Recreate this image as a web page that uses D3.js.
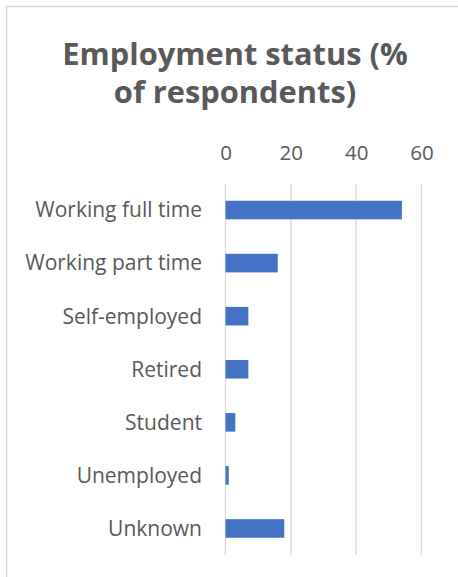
<!DOCTYPE html>
<html>
<head>
<meta charset="utf-8">
<script src="https://cdn.jsdelivr.net/npm/d3@7"></script>
<style>
  html, body { margin: 0; padding: 0; background: #ffffff; }
  svg { display: block; }
</style>
</head>
<body>
<svg id="chart" width="458" height="577"></svg>
<script>
// Employment status, share of respondents (%)
const categories = [
  "Working full time",
  "Working part time",
  "Self-employed",
  "Retired",
  "Student",
  "Unemployed",
  "Unknown"
];
const values = [54, 16, 7, 7, 3, 1, 18];
const tickValues = [0, 20, 40, 60];
const titleLines = ["Employment status (%", "of respondents)"];

const W = 458, H = 577;
const textColor = "#595959";
const gridColor = "#d9d9d9";
const barColor = "#4472c4";
const font = "'Open Sans', 'Noto Sans', sans-serif";

const svg = d3.select("#chart");

// chart area frame (only the top and left edges fall inside the window)
svg.append("rect")
  .attr("x", 6.5).attr("y", 6.5)
  .attr("width", W + 20).attr("height", H + 20)
  .attr("fill", "#ffffff")
  .attr("stroke", gridColor)
  .attr("stroke-width", 1.5);

// title
svg.append("g")
  .selectAll("text")
  .data(titleLines)
  .join("text")
  .attr("x", 235)
  .attr("y", (d, i) => 64.5 + i * 38.5)
  .attr("text-anchor", "middle")
  .attr("font-family", font)
  .attr("font-weight", "bold")
  .attr("font-size", 30.8)
  .attr("fill", textColor)
  .text(d => d);

const x = d3.scaleLinear().domain([0, 60]).range([225.5, 421.5]);
const y = d3.scaleBand()
  .domain(categories)
  .range([183.5, 555])
  .paddingInner(0.65)
  .paddingOuter(0.325);

// vertical gridlines
svg.append("g")
  .selectAll("line")
  .data(tickValues)
  .join("line")
  .attr("x1", d => x(d)).attr("x2", d => x(d))
  .attr("y1", 183.5).attr("y2", 555)
  .attr("stroke", gridColor)
  .attr("stroke-width", 1.3);

// top value axis (labels only)
const xAxis = svg.append("g")
  .attr("transform", "translate(0,160)")
  .call(d3.axisTop(x).tickValues(tickValues).tickSize(0).tickPadding(0).tickFormat(d3.format("d")));
xAxis.select(".domain").remove();
xAxis.selectAll("text")
  .attr("font-family", font)
  .attr("font-size", 20.5)
  .attr("fill", textColor)
  .attr("dy", 0);

// category axis (labels only)
const yAxis = svg.append("g")
  .attr("transform", "translate(202,0)")
  .call(d3.axisLeft(y).tickSize(0).tickPadding(0));
yAxis.select(".domain").remove();
yAxis.selectAll("text")
  .attr("font-family", font)
  .attr("font-size", 21)
  .attr("fill", textColor)
  .attr("dy", "0.35em");

// bars
svg.append("g")
  .selectAll("rect")
  .data(categories.map((c, i) => ({ c, v: values[i] })))
  .join("rect")
  .attr("x", x(0))
  .attr("y", d => y(d.c))
  .attr("width", d => x(d.v) - x(0))
  .attr("height", y.bandwidth())
  .attr("fill", barColor);
</script>
</body>
</html>
